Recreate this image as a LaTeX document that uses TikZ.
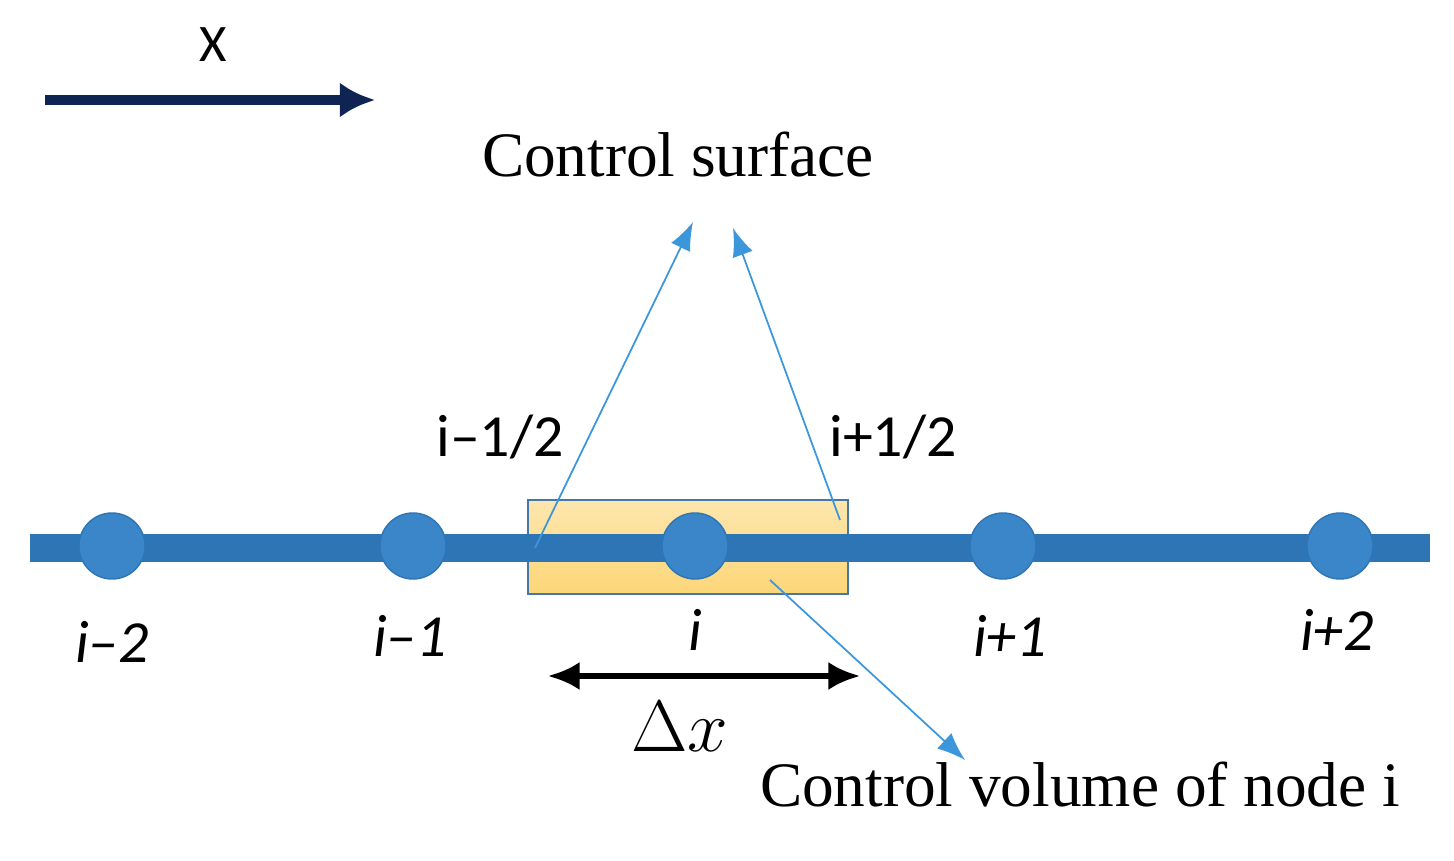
\documentclass[tikz,border=0pt]{standalone}
\usepackage{fontspec}
\setmainfont{Liberation Serif}
\newfontfamily\lblfont{Carlito}
\usetikzlibrary{arrows.meta}
\definecolor{axisblue}{RGB}{46,117,182}
\definecolor{dotblue}{RGB}{58,134,200}
\definecolor{navy}{RGB}{16,36,84}
\definecolor{thinblue}{RGB}{60,150,220}
\definecolor{cvfill}{RGB}{252,214,120}
\tikzstyle{gridnode} = [circle, fill=dotblue, draw=axisblue, minimum size=0.66cm, inner sep=0pt]
\tikzstyle{idx} = [font=\lblfont\fontsize{17}{19}\selectfont\itshape]
\tikzstyle{face} = [font=\lblfont\fontsize{17}{19}\selectfont]
\tikzstyle{pointer} = [thinblue, line width=0.5pt, -{Latex[length=8pt,width=6pt]}]

\begin{document}
\begin{tikzpicture}[x=0.01cm, y=-0.01cm, font=\fontsize{16}{18}\selectfont]
\useasboundingbox (0,0) rectangle (1454,861);

% Direction of x
\node (xlbl) at (213,45) {\lblfont\fontsize{15}{17}\selectfont X};
\coordinate (xs) at (45,100);
\coordinate (xe) at (375,100);
\draw [navy, line width=3pt, -{Latex[length=10pt,width=10pt]}] (xs) -- (xe);

% Control volume and axis
\node (cv) [rectangle, minimum width=3.2cm, minimum height=0.94cm, inner sep=0pt,
  draw=axisblue!70!gray, top color=cvfill!60!white, bottom color=cvfill] at (688,547) {};
\coordinate (left) at (30,548);
\coordinate (right) at (1430,548);
\draw [axisblue, line width=8pt] (left) -- (right);

% Grid points
\node (n0) [gridnode] at (112,546) {};
\node (n1) [gridnode] at (413,546) {};
\node (n2) [gridnode] at (695,546) {};
\node (n3) [gridnode] at (1003,546) {};
\node (n4) [gridnode] at (1340,546) {};
\node [idx] at (112,642) {i–2};
\node [idx] at (410,636) {i–1};
\node [idx] at (695,630) {i};
\node [idx] at (1010,636) {i+1};
\node [idx] at (1337,630) {i+2};

% Faces
\node (west) [face] at (500,437) {i–1/2};
\node (east) [face] at (893,437) {i+1/2};
\node (cs) at (678,155) {\fontsize{18}{20}\selectfont Control surface};
\node (cvl) at (1080,785) {\fontsize{18}{20}\selectfont Control volume of node i};
\coordinate (wf) at (535,548);
\coordinate (ef) at (840,520);
\coordinate (wt) at (693,222);
\coordinate (et) at (733,228);
\coordinate (cvp) at (770,580);
\coordinate (cvt) at (965,760);
\draw [pointer] (wf) -- (wt);
\draw [pointer] (ef) -- (et);
\draw [pointer] (cvp) -- (cvt);

% Width of the volume
\coordinate (dxl) at (548,676);
\coordinate (dxr) at (860,676);
\draw [line width=1.6pt, {Latex[length=9pt,width=8pt]}-{Latex[length=9pt,width=8pt]}] (dxl) -- (dxr);
\node (dx) at (680,727) {\fontsize{22}{24}\selectfont $\Delta x$};

\end{tikzpicture}
\end{document}
